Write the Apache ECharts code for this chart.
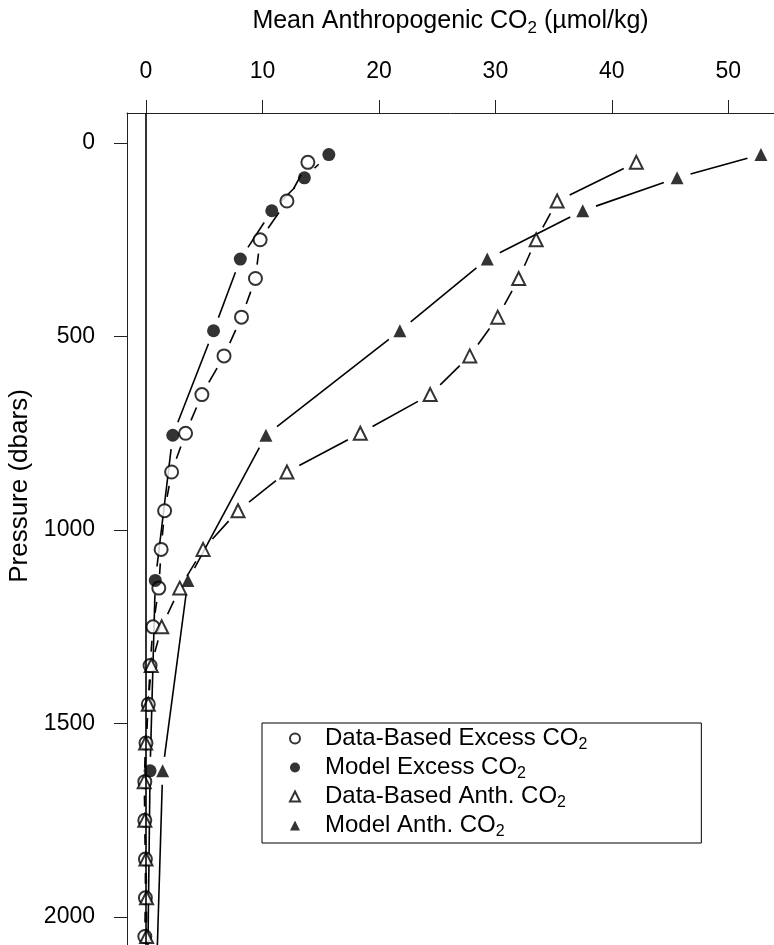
<!DOCTYPE html>
<html>
<head>
<meta charset="utf-8">
<script src="https://cdn.jsdelivr.net/npm/echarts@6/dist/echarts.min.js"></script>
<style>
  html, body { margin: 0; padding: 0; background: #fff; }
  #main { width: 774px; height: 945px; }
</style>
</head>
<body>
<div id="main"></div>
<script>
// pressure levels (dbars)
var dataDepths = [50, 150, 250, 350, 450, 550, 650, 750, 850, 950, 1050, 1150, 1250, 1350,
  1450, 1550, 1650, 1750, 1850, 1950, 2050, 2150];
var modelDepths = [30, 90, 175, 300, 485, 755, 1130, 1622, 2250];

// mean anthropogenic CO2 (umol/kg)
var dataExcess = [13.9, 12.1, 9.8, 9.4, 8.2, 6.7, 4.8, 3.4, 2.2, 1.6, 1.3, 1.1, 0.6, 0.35,
  0.2, 0.0, -0.1, -0.1, -0.05, -0.05, -0.1, 0.0];
var modelExcess = [15.7, 13.6, 10.8, 8.1, 5.8, 2.3, 0.8, 0.35, 0.1];
var dataAnth = [42.1, 35.3, 33.5, 32.0, 30.2, 27.8, 24.4, 18.4, 12.1, 7.9, 4.9, 2.9, 1.35, 0.45,
  0.2, -0.03, -0.15, -0.1, 0.0, 0.05, 0.05, 0.05];
var modelAnth = [52.8, 45.6, 37.5, 29.3, 21.8, 10.3, 3.6, 1.43, 0.8];

var xTicks = [0, 10, 20, 30, 40, 50];
var yTicks = [0, 500, 1000, 1500, 2000];

var FONT = 'Liberation Sans';
var GAP = 14;

function pairs(xs, ys) {
  return xs.map(function (x, i) { return [x, ys[i]]; });
}

// R-style type="b" line: segments stop short of each point
function gapLine(xs, ys) {
  return {
    type: 'custom',
    silent: true,
    data: pairs(xs, ys),
    encode: { x: 0, y: 1 },
    renderItem: function (params, api) {
      var i = params.dataIndex;
      if (i >= xs.length - 1) return null;
      var a = api.coord([xs[i], ys[i]]);
      var b = api.coord([xs[i + 1], ys[i + 1]]);
      var dx = b[0] - a[0], dy = b[1] - a[1];
      var len = Math.sqrt(dx * dx + dy * dy);
      if (len <= 2 * GAP + 1) return null;
      var ux = dx / len, uy = dy / len;
      return {
        type: 'line',
        shape: { x1: a[0] + ux * GAP, y1: a[1] + uy * GAP, x2: b[0] - ux * GAP, y2: b[1] - uy * GAP },
        style: { stroke: '#000', lineWidth: 1.6 }
      };
    }
  };
}

function points(name, symbol, xs, ys, open) {
  return {
    name: name,
    type: 'scatter',
    symbol: symbol,
    symbolSize: 13,
    silent: true,
    z: 3,
    itemStyle: open ? { color: '#000', borderColor: '#000', borderWidth: 1.6 } : { color: '#000' },
    data: pairs(xs, ys)
  };
}

var myChart = echarts.init(document.getElementById('main'), null, { width: 774, height: 945 });

var names = ['Data-Based Excess CO2', 'Model Excess CO2', 'Data-Based Anth. CO2', 'Model Anth. CO2'];

var option = {
  animation: false,
  textStyle: { fontFamily: FONT },
  grid: { left: 127, top: 113, right: 0, bottom: 0, outerBoundsMode: 'none', containLabel: false },
  xAxis: {
    type: 'value',
    position: 'top',
    min: -1.63,
    max: 53.92,
    name: 'Mean Anthropogenic CO{sub|2} (µmol/kg)',
    nameLocation: 'middle',
    nameGap: 76,
    nameTextStyle: {
      fontFamily: FONT, fontSize: 25, color: '#000',
      rich: { sub: { fontFamily: FONT, fontSize: 17, color: '#000', padding: [14, 0, 0, 0] } }
    },
    axisLine: { show: true, onZero: false, lineStyle: { color: '#222', width: 1 } },
    axisTick: { show: true, customValues: xTicks, length: 13, lineStyle: { color: '#222', width: 1 } },
    axisLabel: {
      customValues: xTicks, fontFamily: FONT, fontSize: 23, color: '#000', margin: 30,
      formatter: function (v) { return String(v); }
    },
    splitLine: { show: false }
  },
  yAxis: {
    type: 'value',
    inverse: true,
    min: -77.5,
    max: 2072,
    name: 'Pressure (dbars)',
    nameLocation: 'middle',
    nameGap: 89,
    nameTextStyle: { fontFamily: FONT, fontSize: 26, color: '#000', padding: [0, 0, 0, 86] },
    axisLine: { show: true, onZero: false, lineStyle: { color: '#222', width: 1 } },
    axisTick: { show: true, customValues: yTicks, length: 13, lineStyle: { color: '#222', width: 1 } },
    axisLabel: {
      customValues: yTicks, fontFamily: FONT, fontSize: 23, color: '#000', margin: 32,
      formatter: function (v) { return String(v); }
    },
    splitLine: { show: false }
  },
  legend: {
    orient: 'vertical',
    left: 262,
    top: 723,
    padding: [1, 114, 3, 27],
    itemGap: 0,
    itemWidth: 10,
    itemHeight: 10,
    borderColor: '#000',
    borderWidth: 1,
    selectedMode: false,
    data: [
      { name: names[0], icon: 'emptyCircle' },
      { name: names[1], icon: 'circle' },
      { name: names[2], icon: 'emptyTriangle' },
      { name: names[3], icon: 'triangle' }
    ],
    formatter: function (name) { return name.replace('CO2', 'CO{sub|2}'); },
    textStyle: {
      fontFamily: FONT, fontSize: 24, color: '#000', lineHeight: 24, padding: [0, 0, 0, 20],
      rich: { sub: { fontFamily: FONT, fontSize: 16, color: '#000', lineHeight: 24, padding: [13, 0, 0, 0] } }
    }
  },
  series: [
    gapLine(dataExcess, dataDepths),
    gapLine(modelExcess, modelDepths),
    gapLine(dataAnth, dataDepths),
    gapLine(modelAnth, modelDepths),
    Object.assign(points(names[0], 'emptyCircle', dataExcess, dataDepths, true), {
      markLine: {
        silent: true,
        symbol: ['none', 'none'],
        label: { show: false },
        lineStyle: { color: '#000', width: 1.6, type: 'solid' },
        data: [{ xAxis: 0 }]
      }
    }),
    points(names[1], 'circle', modelExcess, modelDepths, false),
    points(names[2], 'emptyTriangle', dataAnth, dataDepths, true),
    points(names[3], 'triangle', modelAnth, modelDepths, false)
  ]
};

myChart.setOption(option);
</script>
</body>
</html>
